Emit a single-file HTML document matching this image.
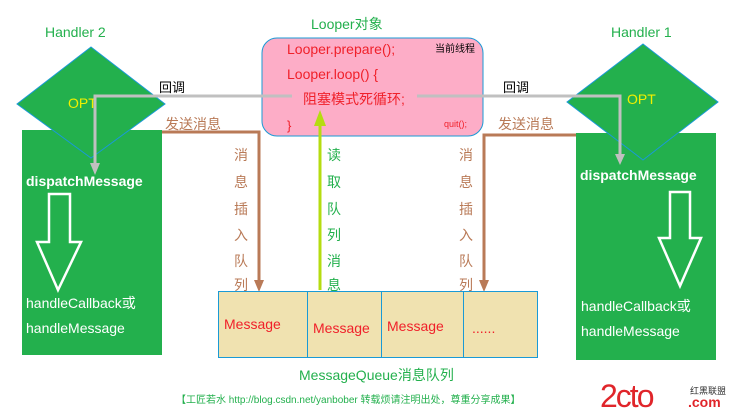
<!DOCTYPE html>
<html><head><meta charset="utf-8"><style>
body{margin:0;background:#fff;}
svg text{font-family:"Liberation Sans","Noto Sans CJK SC",sans-serif;}
</style></head><body>
<svg width="737" height="415" viewBox="0 0 737 415" xmlns="http://www.w3.org/2000/svg">
<!-- left handler -->
<rect x="22" y="130" width="140" height="225" fill="#23b04d"/>
<polygon points="91,47 165,104 91,158 17,104" fill="#23b04d" stroke="#1a9ad6" stroke-width="1"/>
<!-- right handler -->
<rect x="576" y="133" width="140" height="227" fill="#23b04d"/>
<polygon points="643,44 718,102 643,160 567,102" fill="#23b04d" stroke="#1a9ad6" stroke-width="1"/>
<text x="45" y="37" fill="#23b04d" font-size="14">Handler 2</text>
<text x="611" y="37" fill="#23b04d" font-size="14">Handler  1</text>
<text x="68" y="108" fill="#f0f000" font-size="14">OPT</text>
<text x="627" y="104" fill="#f0f000" font-size="14">OPT</text>
<text x="26" y="186" fill="#fff" font-size="14" font-weight="bold">dispatchMessage</text>
<text x="580" y="180" fill="#fff" font-size="14" font-weight="bold">dispatchMessage</text>
<!-- hollow arrows -->
<polygon points="49,194 70,194 70,242 81,242 58,290 37,242 49,242" fill="none" stroke="#fff" stroke-width="2.5"/>
<polygon points="670,192 690,192 690,238 701,238 680,286 659,238 670,238" fill="none" stroke="#fff" stroke-width="2.5"/>
<text x="26" y="308" fill="#fff" font-size="14">handleCallback或</text>
<text x="26" y="333" fill="#fff" font-size="14">handleMessage</text>
<text x="581" y="311" fill="#fff" font-size="14">handleCallback或</text>
<text x="581" y="336" fill="#fff" font-size="14">handleMessage</text>
<!-- looper -->
<text x="311" y="29" fill="#23b04d" font-size="14">Looper对象</text>
<rect x="262" y="38" width="221" height="98" rx="15" fill="#fdadc7" stroke="#1a9ad6" stroke-width="1"/>
<text x="287" y="54" fill="#f0202a" font-size="14">Looper.prepare();</text>
<text x="287" y="79" fill="#f0202a" font-size="14">Looper.loop() {</text>
<text x="303" y="104" fill="#f0202a" font-size="14">阻塞模式死循环;</text>
<text x="287" y="130" fill="#f0202a" font-size="13">}</text>
<text x="435" y="52" fill="#000" font-size="10">当前线程</text>
<text x="444" y="127" fill="#f0202a" font-size="9">quit();</text>
<!-- gray callback lines -->
<polyline points="292,96 95,96 95,165" fill="none" stroke="#c0c0c0" stroke-width="3"/>
<polygon points="90,163 100,163 95,175" fill="#c0c0c0"/>
<polyline points="417,96 620,96 620,156" fill="none" stroke="#c0c0c0" stroke-width="3"/>
<polygon points="615,154 625,154 620,165" fill="#c0c0c0"/>
<text x="159" y="92" fill="#000" font-size="13">回调</text>
<text x="503" y="92" fill="#000" font-size="13">回调</text>
<!-- brown send lines -->
<polyline points="162,132 259,132 259,282" fill="none" stroke="#b97a57" stroke-width="3"/>
<polygon points="254,280 264,280 259,292" fill="#b97a57"/>
<polyline points="576,135 484,135 484,282" fill="none" stroke="#b97a57" stroke-width="3"/>
<polygon points="479,280 489,280 484,292" fill="#b97a57"/>
<text x="165" y="129" fill="#b97a57" font-size="14">发送消息</text>
<text x="498" y="129" fill="#b97a57" font-size="14">发送消息</text>
<g fill="#b97a57" font-size="14">
<text x="234" y="160">消</text><text x="234" y="187">息</text><text x="234" y="214">插</text><text x="234" y="240">入</text><text x="234" y="266">队</text><text x="234" y="290">列</text>
<text x="459" y="160">消</text><text x="459" y="187">息</text><text x="459" y="214">插</text><text x="459" y="240">入</text><text x="459" y="266">队</text><text x="459" y="290">列</text>
</g>
<!-- read line -->
<line x1="320" y1="290" x2="320" y2="122" stroke="#b5dc10" stroke-width="3"/>
<polygon points="314,126 326,126 320,110" fill="#b5dc10"/>
<g fill="#23b04d" font-size="14">
<text x="327" y="160">读</text><text x="327" y="187">取</text><text x="327" y="214">队</text><text x="327" y="240">列</text><text x="327" y="266">消</text><text x="327" y="290">息</text>
</g>
<!-- queue -->
<rect x="218.5" y="291.5" width="319" height="66" fill="#f0e2b0" stroke="#1a9ad6" stroke-width="1"/>
<line x1="307.5" y1="291" x2="307.5" y2="358" stroke="#1a9ad6"/>
<line x1="381.5" y1="291" x2="381.5" y2="358" stroke="#1a9ad6"/>
<line x1="463.5" y1="291" x2="463.5" y2="358" stroke="#1a9ad6"/>
<g fill="#f0202a" font-size="14">
<text x="224" y="329">Message</text><text x="313" y="333">Message</text><text x="387" y="331">Message</text><text x="472" y="333">......</text>
</g>
<text x="299" y="380" fill="#23b04d" font-size="14">MessageQueue消息队列</text>
<text x="176" y="403" fill="#23b04d" font-size="10">【工匠若水 http://blog.csdn.net/yanbober  转载烦请注明出处，尊重分享成果】</text>
<!-- logo -->
<text x="600" y="407" fill="#e0252a" font-size="32" letter-spacing="-2">2cto</text>
<text x="690" y="394" fill="#333" font-size="9">红黑联盟</text>
<text x="688" y="407" fill="#e0252a" font-size="14" font-weight="bold">.com</text>
</svg>
</body></html>
